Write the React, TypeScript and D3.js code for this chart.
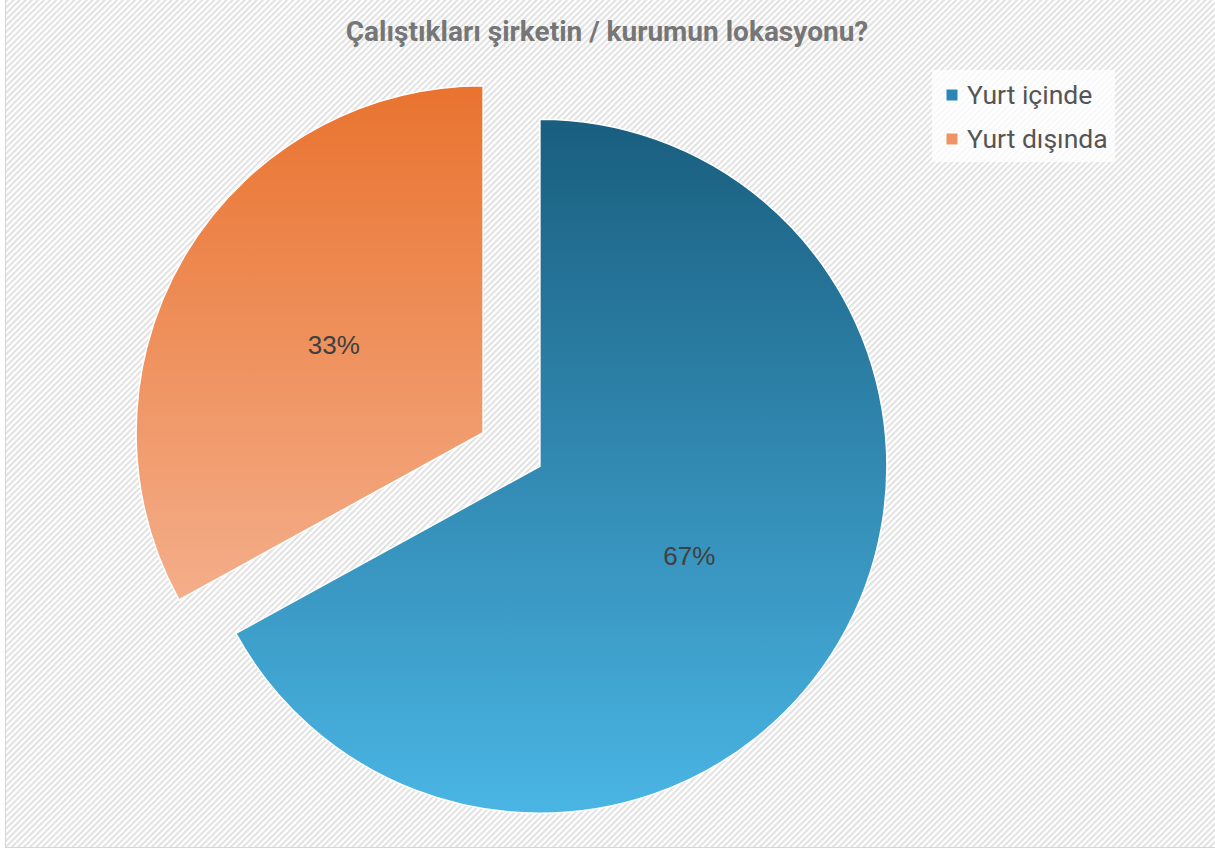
import React from "react";
import * as d3 from "d3";

const title = "Çalıştıkları şirketin / kurumun lokasyonu?";
const categories = ["Yurt içinde", "Yurt dışında"];
const values = [67, 33];
const topColors = ["#195e7f", "#e9732f"];
const bottomColors = ["#4ab5e4", "#f4ae8a"];
const legendColors = ["#2a86b4", "#ef9363"];

const W = 1215;
const H = 852;
const cx = 511.5;
const cy = 449.5;
const R = 347;
const explode = 33;

export default function App() {
  const pie = d3.pie<number>().sort(null).value((d) => d);
  const arcs = pie(values);
  const arcGen = d3.arc<d3.PieArcDatum<number>>().innerRadius(0).outerRadius(R);
  const total = d3.sum(values);

  return (
    <svg width={W} height={H} style={{ position: "absolute", left: 0, top: 0 }}>
      <defs>
        <pattern id="stripes" patternUnits="userSpaceOnUse" width="4.3" height="4.3" patternTransform="rotate(-45)">
          <rect width="4.3" height="4.3" fill="#ffffff" />
          <rect width="4.3" height="2.1" fill="#e2e2e2" />
        </pattern>
        {arcs.map((a, i) => (
          <linearGradient key={i} id={`g${i}`} x1="0" y1="0" x2="0" y2="1">
            <stop offset="0" stopColor={topColors[i]} />
            <stop offset="1" stopColor={bottomColors[i]} />
          </linearGradient>
        ))}
      </defs>
      <rect x={0} y={0} width={W} height={H} fill="#ffffff" />
      <rect x={5.5} y={-1} width={W + 5} height={848.5} fill="url(#stripes)" stroke="#d6d6d6" strokeWidth={1} />
      <text
        x={607}
        y={41}
        textAnchor="middle"
        fontFamily="Roboto, 'Liberation Sans', sans-serif"
        fontWeight="bold"
        fontSize={28}
        fill="#767676"
      >
        {title}
      </text>
      {arcs.map((a, i) => {
        const mid = (a.startAngle + a.endAngle) / 2;
        const dx = Math.sin(mid) * explode;
        const dy = -Math.cos(mid) * explode;
        const [lx, ly] = arcGen.centroid(a);
        return (
          <g key={i} transform={`translate(${cx + dx},${cy + dy})`}>
            <path d={arcGen(a) || ""} fill={`url(#g${i})`} stroke="#ffffff" strokeWidth={1.5} />
            <text
              x={lx}
              y={ly + 1}
              textAnchor="middle"
              dominantBaseline="central"
              fontFamily="'Liberation Sans', Arial, sans-serif"
              fontSize={26}
              fill="#404040"
            >
              {`${Math.round((a.data / total) * 100)}%`}
            </text>
          </g>
        );
      })}
      <rect x={932} y={70} width={183} height={92} fill="#ffffff" opacity={0.75} />
      {categories.map((c, i) => (
        <g key={c} transform={`translate(946,${89 + i * 44})`}>
          <rect x={0} y={0} width={12} height={12} fill={legendColors[i]} stroke="#ffffff" strokeWidth={1} />
          <text
            x={21}
            y={15}
            fontFamily="Roboto, 'Liberation Sans', sans-serif"
            fontSize={26.5}
            fill="#555555"
          >
            {c}
          </text>
        </g>
      ))}
    </svg>
  );
}
